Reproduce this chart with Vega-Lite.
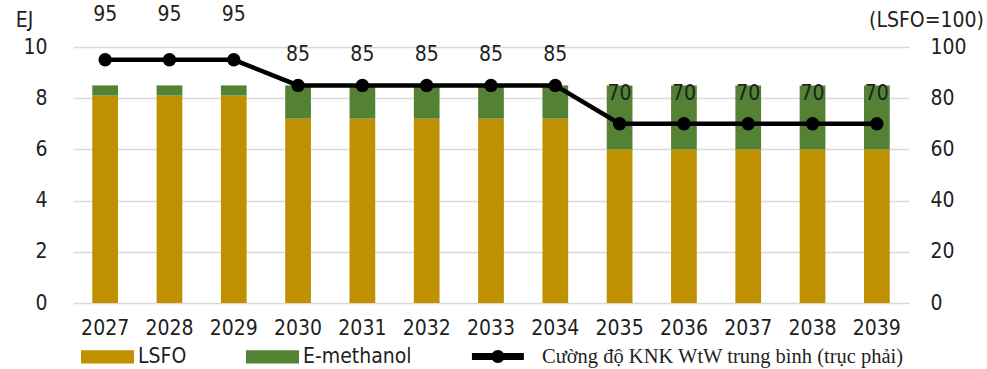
{
  "$schema": "https://vega.github.io/schema/vega-lite/v6.json",
  "width": 836,
  "height": 256,
  "autosize": {"type": "none"},
  "padding": {"left": 73, "top": 47, "right": 78, "bottom": 66},
  "config": {
    "view": {"stroke": null},
    "font": "DejaVu Sans Condensed, Liberation Sans, sans-serif",
    "axis": {"labelFont": "DejaVu Sans Condensed, Liberation Sans, sans-serif", "labelFontSize": 21, "labelColor": "#1f1f1f", "domain": false, "ticks": false, "titleFont": "DejaVu Sans Condensed, Liberation Sans, sans-serif", "titleFontSize": 21, "titleFontWeight": "normal", "titleColor": "#1f1f1f"}
  },
  "datasets": {
    "bars": [
      {"year": "2027", "fuel": "LSFO", "ej": 8.1}, {"year": "2027", "fuel": "E-methanol", "ej": 0.4},
      {"year": "2028", "fuel": "LSFO", "ej": 8.1}, {"year": "2028", "fuel": "E-methanol", "ej": 0.4},
      {"year": "2029", "fuel": "LSFO", "ej": 8.1}, {"year": "2029", "fuel": "E-methanol", "ej": 0.4},
      {"year": "2030", "fuel": "LSFO", "ej": 7.2}, {"year": "2030", "fuel": "E-methanol", "ej": 1.3},
      {"year": "2031", "fuel": "LSFO", "ej": 7.2}, {"year": "2031", "fuel": "E-methanol", "ej": 1.3},
      {"year": "2032", "fuel": "LSFO", "ej": 7.2}, {"year": "2032", "fuel": "E-methanol", "ej": 1.3},
      {"year": "2033", "fuel": "LSFO", "ej": 7.2}, {"year": "2033", "fuel": "E-methanol", "ej": 1.3},
      {"year": "2034", "fuel": "LSFO", "ej": 7.2}, {"year": "2034", "fuel": "E-methanol", "ej": 1.3},
      {"year": "2035", "fuel": "LSFO", "ej": 6.0}, {"year": "2035", "fuel": "E-methanol", "ej": 2.5},
      {"year": "2036", "fuel": "LSFO", "ej": 6.0}, {"year": "2036", "fuel": "E-methanol", "ej": 2.5},
      {"year": "2037", "fuel": "LSFO", "ej": 6.0}, {"year": "2037", "fuel": "E-methanol", "ej": 2.5},
      {"year": "2038", "fuel": "LSFO", "ej": 6.0}, {"year": "2038", "fuel": "E-methanol", "ej": 2.5},
      {"year": "2039", "fuel": "LSFO", "ej": 6.0}, {"year": "2039", "fuel": "E-methanol", "ej": 2.5}
    ],
    "line": [
      {"year": "2027", "intensity": 95}, {"year": "2028", "intensity": 95}, {"year": "2029", "intensity": 95},
      {"year": "2030", "intensity": 85}, {"year": "2031", "intensity": 85}, {"year": "2032", "intensity": 85},
      {"year": "2033", "intensity": 85}, {"year": "2034", "intensity": 85}, {"year": "2035", "intensity": 70},
      {"year": "2036", "intensity": 70}, {"year": "2037", "intensity": 70}, {"year": "2038", "intensity": 70},
      {"year": "2039", "intensity": 70}
    ]
  },
  "layer": [
    {
      "data": {"name": "bars"},
      "mark": {"type": "bar"},
      "encoding": {
        "x": {"field": "year", "type": "ordinal", "scale": {"paddingInner": 0.6, "paddingOuter": 0.3},
              "axis": {"title": null, "labelAngle": 0, "labelPadding": 14, "grid": false}},
        "y": {"field": "ej", "type": "quantitative", "stack": "zero", "scale": {"domain": [0, 10]},
              "axis": {"values": [0, 2, 4, 6, 8, 10], "grid": true, "gridColor": "#d9d9d9", "gridWidth": 1.5,
                       "labelPadding": 26, "title": "EJ", "titleAngle": 0, "titleX": -49, "titleY": -27,
                       "titleAlign": "center", "titleBaseline": "middle"}},
        "color": {"field": "fuel", "type": "nominal",
                  "scale": {"domain": ["LSFO", "E-methanol", "Cường độ KNK WtW trung bình (trục phải)"], "range": ["#BF9000", "#548235", "#000000"]},
                  "legend": {"orient": "none", "legendX": 8, "legendY": 283, "direction": "horizontal", "title": null,
                             "labelFontSize": 21, "labelFont": "DejaVu Sans Condensed, Liberation Sans, sans-serif", "labelColor": "#1f1f1f", "columnPadding": 59,
                             "symbolSize": 2809, "labelOffset": 4, "labelLimit": 600,
                             "encode": {
                               "symbols": {"update": {
                                 "shape": {"signal": "datum.value === 'Cường độ KNK WtW trung bình (trục phải)' ? 'M-1.38,-0.13H0.58V0.13H-1.38Z M-0.155,0A0.245,0.245,0,1,1,-0.645,0A0.245,0.245,0,1,1,-0.155,0Z' : 'M-1,-0.25H1V0.25H-1Z'"},
                                 "fill": {"signal": "datum.value === 'LSFO' ? '#BF9000' : datum.value === 'E-methanol' ? '#548235' : '#000000'"},
                                 "stroke": {"value": "transparent"},
                                 "strokeWidth": {"value": 0},
                                 "opacity": {"value": 1}
                               }},
                               "labels": {"update": {
                                 "font": {"signal": "datum.value === 'Cường độ KNK WtW trung bình (trục phải)' ? 'Liberation Serif' : 'DejaVu Sans Condensed, Liberation Sans, sans-serif'"},
                                 "fontSize": {"signal": "datum.value === 'Cường độ KNK WtW trung bình (trục phải)' ? 20.5 : 21"},
                                 "dx": {"signal": "datum.value === 'Cường độ KNK WtW trung bình (trục phải)' ? 3 : 0"}
                               }}
                             }}},
        "order": {"field": "fuel", "sort": "descending"}
      }
    },
    {
      "data": {"name": "line"},
      "layer": [
        {
          "mark": {"type": "line", "strokeWidth": 4.5, "point": {"size": 180, "filled": true, "opacity": 1}},
          "encoding": {
            "x": {"field": "year", "type": "ordinal"},
            "y": {"field": "intensity", "type": "quantitative", "scale": {"domain": [0, 100]},
                  "axis": {"orient": "right", "values": [0, 20, 40, 60, 80, 100], "grid": false, "labelPadding": 21,
                           "title": "(LSFO=100)", "titleAngle": 0, "titleX": 17, "titleY": -27,
                           "titleAlign": "center", "titleBaseline": "middle"}},
            "color": {"datum": "Cường độ KNK WtW trung bình (trục phải)"}
          }
        },
        {
          "transform": [{"filter": "datum.intensity == 95"}],
          "mark": {"type": "text", "fontSize": 21, "dy": -45, "color": "#1f1f1f"},
          "encoding": {
            "x": {"field": "year", "type": "ordinal"},
            "y": {"field": "intensity", "type": "quantitative"},
            "text": {"field": "intensity", "type": "quantitative"}
          }
        },
        {
          "transform": [{"filter": "datum.intensity != 95"}],
          "mark": {"type": "text", "fontSize": 21, "dy": -30, "color": "#1f1f1f"},
          "encoding": {
            "x": {"field": "year", "type": "ordinal"},
            "y": {"field": "intensity", "type": "quantitative"},
            "text": {"field": "intensity", "type": "quantitative"}
          }
        }
      ]
    }
  ],
  "resolve": {"scale": {"y": "independent"}}
}
